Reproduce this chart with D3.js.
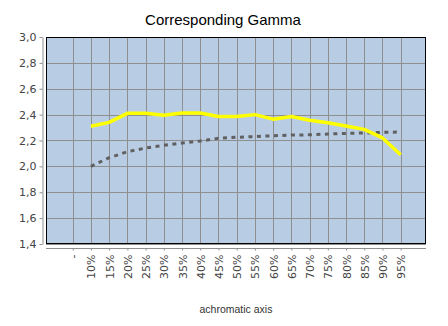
<!DOCTYPE html>
<html>
<head>
<meta charset="utf-8">
<script src="https://cdn.jsdelivr.net/npm/d3@7"></script>
<style>
  html, body { margin: 0; padding: 0; background: #fff; }
  svg { display: block; }
</style>
</head>
<body>
<svg id="chart" width="448" height="326"></svg>
<script>
// Achromatic axis positions
const categories = ["-", "10%", "15%", "20%", "25%", "30%", "35%", "40%", "45%", "50%",
  "55%", "60%", "65%", "70%", "75%", "80%", "85%", "90%", "95%"];

// Measured gamma (yellow) and reference gamma (dashed)
const measuredGamma = [null, 2.31, 2.34, 2.41, 2.41, 2.395, 2.413, 2.413, 2.385, 2.385,
  2.40, 2.365, 2.385, 2.356, 2.337, 2.312, 2.286, 2.22, 2.09];
const referenceGamma = [null, 2.00, 2.067, 2.113, 2.142, 2.163, 2.18, 2.196, 2.217, 2.225,
  2.23, 2.237, 2.242, 2.244, 2.25, 2.255, 2.258, 2.263, 2.266];

const yTicks = [1.4, 1.6, 1.8, 2.0, 2.2, 2.4, 2.6, 2.8, 3.0];

const svg = d3.select("#chart");
const plot = { left: 46, right: 426, top: 37, bottom: 244 };

const x = d3.scalePoint()
  .domain(categories)
  .range([72.7, 400.7]);

const y = d3.scaleLinear()
  .domain([1.4, 3.0])
  .range([plot.bottom, plot.top]);

const fmt = v => d3.format(".1f")(v).replace(".", ",");

// Title
svg.append("text")
  .attr("x", 223)
  .attr("y", 25)
  .attr("text-anchor", "middle")
  .attr("font-family", "'Liberation Sans', Arial, sans-serif")
  .attr("font-size", 15)
  .attr("fill", "#000")
  .text("Corresponding Gamma");

// Plot background
svg.append("rect")
  .attr("x", plot.left)
  .attr("y", plot.top)
  .attr("width", plot.right - plot.left)
  .attr("height", plot.bottom - plot.top)
  .attr("fill", "#b8cce4");

// Grid lines
const grid = svg.append("g").attr("stroke", "#8f8f8f").attr("stroke-width", 1);
grid.selectAll("line.h")
  .data(yTicks)
  .join("line")
  .attr("class", "h")
  .attr("x1", plot.left).attr("x2", plot.right)
  .attr("y1", d => Math.round(y(d)) + 0.5)
  .attr("y2", d => Math.round(y(d)) + 0.5);
grid.selectAll("line.v")
  .data(categories)
  .join("line")
  .attr("class", "v")
  .attr("x1", d => Math.round(x(d)) + 0.5)
  .attr("x2", d => Math.round(x(d)) + 0.5)
  .attr("y1", plot.top).attr("y2", plot.bottom);

// Plot border
svg.append("rect")
  .attr("x", plot.left + 0.5)
  .attr("y", plot.top + 0.5)
  .attr("width", plot.right - plot.left - 1)
  .attr("height", plot.bottom - plot.top - 1)
  .attr("fill", "none")
  .attr("stroke", "#000")
  .attr("stroke-width", 1);

// Y axis
const yAxis = svg.append("g")
  .attr("transform", "translate(42.5,0)")
  .call(d3.axisLeft(y).tickValues(yTicks).tickFormat(fmt).tickSize(3).tickSizeOuter(0).tickPadding(3));
yAxis.select(".domain").attr("stroke", "#8f8f8f");
yAxis.selectAll(".tick line").attr("stroke", "#8f8f8f");
yAxis.selectAll(".tick text")
  .attr("font-family", "'DejaVu Sans', Verdana, sans-serif")
  .attr("font-size", 11)
  .attr("fill", "#444");

// X axis
const xAxis = svg.append("g")
  .attr("transform", "translate(0,248.5)")
  .call(d3.axisBottom(x).tickSize(2).tickSizeOuter(0));
xAxis.select(".domain")
  .attr("stroke", "#8f8f8f")
  .attr("d", `M${plot.left},0H${plot.right}`);
xAxis.selectAll(".tick line").attr("stroke", "#8f8f8f");
xAxis.selectAll(".tick text")
  .attr("font-family", "'DejaVu Sans', Verdana, sans-serif")
  .attr("font-size", 11)
  .attr("fill", "#444")
  .attr("text-anchor", "end")
  .attr("dy", null)
  .attr("transform", "rotate(-90)")
  .attr("x", -6)
  .attr("y", 4);

// X axis title
svg.append("text")
  .attr("x", 236)
  .attr("y", 313)
  .attr("text-anchor", "middle")
  .attr("font-family", "'Liberation Sans', Arial, sans-serif")
  .attr("font-size", 10.5)
  .attr("fill", "#333")
  .text("achromatic axis");

// Series
const line = d3.line()
  .defined(d => d.v != null)
  .x(d => x(d.c))
  .y(d => y(d.v));

const toPoints = arr => categories.map((c, i) => ({ c, v: arr[i] }));

svg.append("path")
  .datum(toPoints(referenceGamma))
  .attr("fill", "none")
  .attr("stroke", "#606060")
  .attr("stroke-width", 3)
  .attr("stroke-dasharray", "4,4.5")
  .attr("d", line);

svg.append("path")
  .datum(toPoints(measuredGamma))
  .attr("fill", "none")
  .attr("stroke", "#ffff00")
  .attr("stroke-width", 3.5)
  .attr("stroke-linejoin", "round")
  .attr("d", line);
</script>
</body>
</html>
